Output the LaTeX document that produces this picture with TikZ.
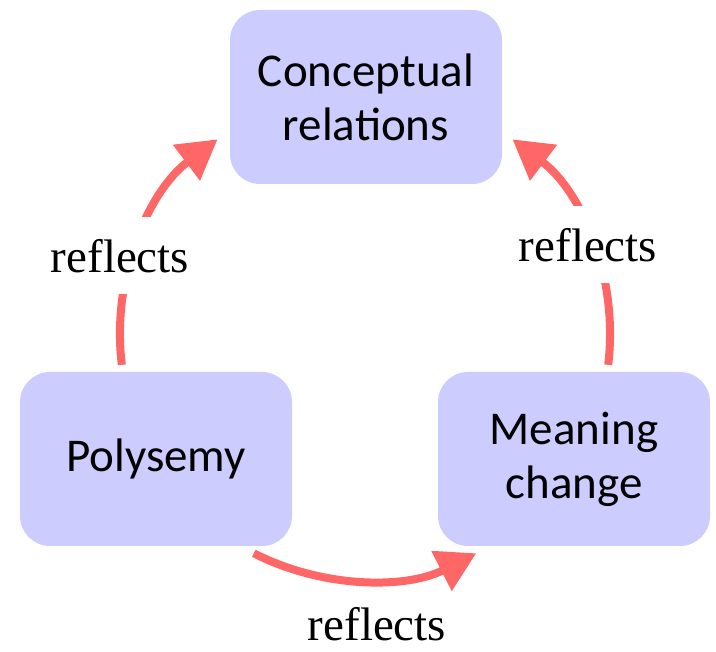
\documentclass[tikz,border=0pt]{standalone}
\usepackage{fontspec}
\setmainfont{Carlito}
\newfontfamily\labelfont{Liberation Serif}
\usetikzlibrary{arrows.meta,calc}
\definecolor{boxfill}{HTML}{CCCCFF}
\definecolor{linkred}{HTML}{FF6666}
\begin{document}
\begin{tikzpicture}[x=1pt,y=1pt,
  conceptbox/.style={fill=boxfill, rounded corners=30pt, minimum width=272pt,
    minimum height=174pt, align=center, inner sep=0pt,
    font=\fontsize{47}{54}\selectfont},
  conn/.style={draw=linkred, line width=8pt,
    -{Triangle[length=39pt,width=43pt]}},
  labeltext/.style={font=\labelfont\fontsize{47}{54}\selectfont},
  linklabel/.style={labeltext, fill=white, inner xsep=4pt, inner ysep=13pt,
    text height=43pt, text depth=8pt}]
\useasboundingbox (0,0) rectangle (716,652);

% the three concepts
\node[conceptbox] (rel) at (366,555) {Conceptual\\relations};
\node[conceptbox] (poly) at (156,193) {Polysemy};
\node[conceptbox] (mean) at (574,193) {Meaning\\change};

% the cycle of links lies on one circle
\coordinate (c) at (365,317);
\coordinate (l0) at ($(c)+(187:245)$);
\coordinate (r0) at ($(c)+(-7:245)$);
\coordinate (b0) at ($(c)+(243:245)$);

\draw[conn] (l0) arc[start angle=187, end angle=127, radius=245];
\draw[conn] (r0) arc[start angle=-7, end angle=53, radius=245];
\draw[conn] (b0) arc[start angle=243, end angle=297, radius=245];

% labels of the links
\node[linklabel, anchor=base] (lab1) at (120,379) {reflects};
\node[linklabel, anchor=base] (lab2) at (588,390) {reflects};
\node[labeltext, inner sep=0pt, anchor=base] (lab3) at (377,11) {reflects};
\end{tikzpicture}
\end{document}
